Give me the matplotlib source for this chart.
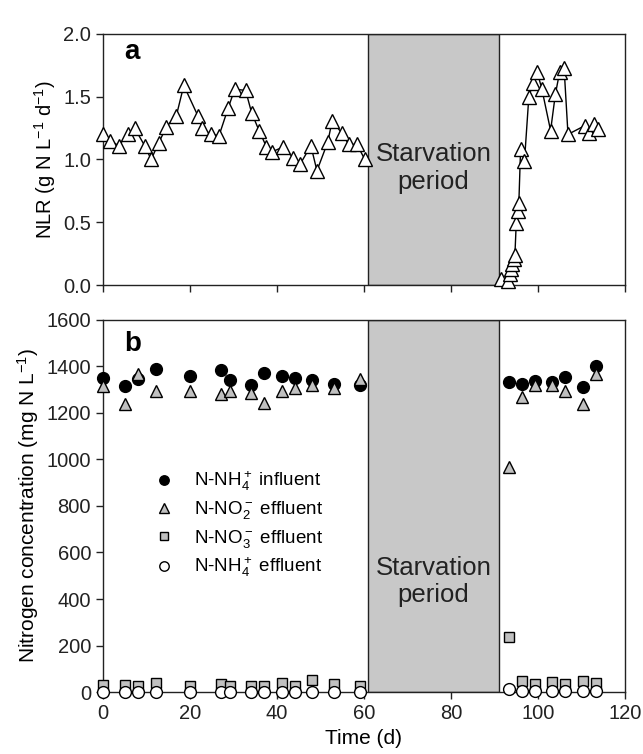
import matplotlib
matplotlib.use("Agg")
import matplotlib.pyplot as plt

plt.rcParams["font.family"] = ["Liberation Sans", "DejaVu Sans"]
plt.rcParams["mathtext.fontset"] = "custom"
plt.rcParams["mathtext.rm"] = "Liberation Sans"
plt.rcParams["mathtext.it"] = "Liberation Sans"

# ---- panel a: nitrogen loading rate (before / after starvation) ----
nlr_day_pre = [0, 1.7, 3.6, 5.8, 7.3, 9.6, 11.1, 12.8, 14.6, 16.9, 18.6, 21.8,
               22.8, 24.8, 26.7, 28.8, 30.3, 32.8, 34.2, 35.9, 37.6, 38.8,
               41.5, 43.8, 45.3, 47.8, 49.2, 51.7, 52.7, 54.9, 56.5, 58.4, 60.2]
nlr_val_pre = [1.20, 1.15, 1.11, 1.20, 1.25, 1.11, 1.00, 1.13, 1.26, 1.35, 1.59,
               1.35, 1.25, 1.20, 1.19, 1.41, 1.56, 1.55, 1.37, 1.23, 1.10, 1.06,
               1.10, 1.01, 0.96, 1.11, 0.91, 1.14, 1.31, 1.21, 1.12, 1.12, 1.00]
nlr_day_post = [91.6, 93.1, 93.5, 93.8, 94.1, 94.4, 94.7, 95.0, 95.4, 95.6, 96.0,
                96.9, 97.9, 98.9, 99.8, 100.9, 102.9, 104.0, 105.0, 106.0,
                106.9, 110.8, 111.8, 112.8, 113.9]
nlr_val_post = [0.05, 0.03, 0.09, 0.13, 0.17, 0.21, 0.24, 0.49, 0.59, 0.65, 1.08,
                0.99, 1.50, 1.61, 1.70, 1.56, 1.23, 1.52, 1.70, 1.73,
                1.20, 1.27, 1.21, 1.28, 1.24]

# ---- panel b: nitrogen concentrations ----
b_day = [0.1, 5.1, 8.1, 12.2, 20.0, 27.1, 29.2, 34.0, 37.0, 41.1, 44.1, 48.0,
         53.1, 59.1, 93.3, 96.3, 99.4, 103.2, 106.3, 110.3, 113.4]
nh4_in = [1348, 1315, 1344, 1389, 1358, 1384, 1341, 1319, 1373, 1358, 1351,
          1341, 1324, 1319, 1334, 1324, 1338, 1334, 1353, 1310, 1403]
no2_eff = [1315, 1238, 1367, 1295, 1295, 1281, 1295, 1284, 1243, 1295, 1305,
           1319, 1305, 1345, 966, 1269, 1319, 1319, 1295, 1238, 1367]
no3_eff = [29, 32, 28, 39, 25, 36, 28, 25, 25, 39, 25, 53, 35, 25,
           236, 50, 35, 43, 35, 50, 39]
nh4_eff = [2, 2, 2, 2, 2, 2, 2, 2, 2, 2, 2, 2, 2, 2,
           12, 3, 3, 3, 3, 3, 3]

starve_start, starve_end = 61, 91
shade = "#c8c8c8"
mgray = "#c0c0c0"
ink = "#222222"

fig = plt.figure(figsize=(6.43, 7.54), dpi=100)
ax1 = fig.add_axes([0.160, 0.622, 0.812, 0.333])
ax2 = fig.add_axes([0.160, 0.082, 0.812, 0.494])

for ax in (ax1, ax2):
    ax.axvspan(starve_start, starve_end, facecolor=shade, edgecolor=ink,
               lw=1.0, zorder=1)
    ax.set_xlim(0, 120)
    ax.set_xticks(range(0, 121, 20))
    ax.tick_params(direction="out", length=5, width=1, labelsize=14.5,
                   colors=ink)
    for s in ax.spines.values():
        s.set_linewidth(1.0)
        s.set_color(ink)

# panel a
tri = dict(color="black", lw=1.0, marker="^", ms=9.5, mfc="white",
           mec="black", mew=1.0, zorder=3, clip_on=False)
ax1.plot(nlr_day_pre, nlr_val_pre, "-", **tri)
ax1.plot(nlr_day_post, nlr_val_post, "-", **tri)
ax1.set_ylim(0, 2.0)
ax1.set_yticks([0.0, 0.5, 1.0, 1.5, 2.0])
ax1.set_yticklabels(["0.0", "0.5", "1.0", "1.5", "2.0"])
ax1.set_xticklabels([])
ax1.set_ylabel("NLR (g N L$^{-1}$ d$^{-1}$)", fontsize=14.5)
ax1.text(0.04, 0.93, "a", transform=ax1.transAxes, fontsize=20,
         fontweight="bold", va="center")
ax1.text((starve_start + starve_end) / 2, 0.93, "Starvation\nperiod",
         ha="center", va="center", fontsize=18.5, color=ink, zorder=4,
         linespacing=1.2)

# panel b
ax2.plot(b_day, nh4_in, "o", ls="none", ms=8.5, mfc="black", mec="black",
         label="N-NH$_4^+$ influent", zorder=3, clip_on=False)
ax2.plot(b_day, no2_eff, "^", ls="none", ms=8.5, mfc=mgray, mec="black",
         mew=1.0, label="N-NO$_2^-$ effluent", zorder=4, clip_on=False)
ax2.plot(b_day, no3_eff, "s", ls="none", ms=7.5, mfc=mgray, mec="black",
         mew=1.0, label="N-NO$_3^-$ effluent", zorder=3, clip_on=False)
ax2.plot(b_day, nh4_eff, "o", ls="none", ms=8.5, mfc="white", mec="black",
         mew=1.0, label="N-NH$_4^+$ effluent", zorder=5, clip_on=False)
ax2.set_ylim(0, 1600)
ax2.set_yticks(range(0, 1601, 200))
ax2.set_xlabel("Time (d)", fontsize=15)
ax2.set_ylabel("Nitrogen concentration (mg N L$^{-1}$)", fontsize=15)
ax2.text(0.04, 0.935, "b", transform=ax2.transAxes, fontsize=20,
         fontweight="bold", va="center")
ax2.text((starve_start + starve_end) / 2, 475, "Starvation\nperiod",
         ha="center", va="center", fontsize=18.5, color=ink, zorder=4,
         linespacing=1.2)
ax2.legend(loc="upper left", bbox_to_anchor=(0.082, 0.618), frameon=False,
           fontsize=13.5, handletextpad=1.0, labelspacing=0.33,
           markerscale=0.8, handlelength=1.2, borderaxespad=0)

fig.savefig("out.png", dpi=100)
